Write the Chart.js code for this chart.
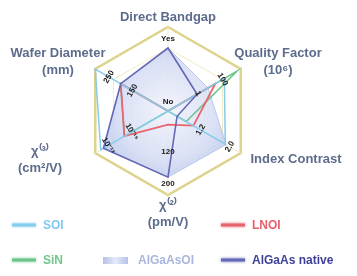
<!DOCTYPE html>
<html>
<head>
<meta charset="utf-8">
<script src="https://cdn.jsdelivr.net/npm/chart.js@4.4.1/dist/chart.umd.min.js"></script>
<style>
  html, body { margin: 0; padding: 0; background: #fff; }
  #wrap { width: 357px; height: 276px; }
</style>
</head>
<body>
<div id="wrap"><canvas id="radar" width="357" height="276"></canvas></div>
<script>
// Axes (clockwise from top)
const axisKeys = ['Direct Bandgap', 'Quality Factor', 'Index Contrast', 'χ(2)', 'χ(3)', 'Wafer Diameter'];
const axisTitles = [
  ['Direct Bandgap'],
  ['Quality Factor', '(10⁶)'],
  ['Index Contrast'],
  ['χ⁽²⁾', '(pm/V)'],
  ['χ⁽³⁾', '(cm²/V)'],
  ['Wafer Diameter', '(mm)']
];

// Series values on a 0..4 radial scale
const soiValues = [0, 3.1, 3.15, 0, 3.7, 4.0];
const lnoiValues = [0, 2.6, 1.4, 0.65, 2.4, 2.6];
const sinValues = [0, 3.8, 1.0, 0, 2.4, 2.6];
const algaasoiValues = [3.0, 2.2, 3.2, 3.15, 3.55, 2.6];
const nativeValues = [3.0, 1.6, 0.5, 3.15, 3.55, 2.6];

// Per-axis tick labels: axis index, radial position, text
const tickAxis = [0, 0, 1, 1, 2, 2, 3, 3, 4, 4, 5, 5];
const tickAt = [3.45, 0.42, 3.0, 1.65, 3.4, 1.8, 3.45, 1.95, 3.3, 2.0, 3.25, 1.95];
const tickText = ['Yes', 'No', '100', '1', '2.0', '1.2', '200', '120', '10⁻¹³', '10⁻¹⁵', '250', '150'];

// Title block offsets from the centre (style only)
const titleOffset = [[0, -94], [110, -49], [128, 48], [0, 103], [-128, 49], [-110, -49]];
const legendPos = [[12, 225], [221, 225], [12, 260], [103, 260], [221, 260]];
const legendText = ['#7fc9ee', '#e8606e', '#72c68e', '#a9b6de', '#3f4199'];

function fillGradient(ctx) {
  const chart = ctx.chart;
  const s = chart.scales.r;
  if (!s || !s.drawingArea) return 'rgba(190,200,236,0.7)';
  const g = chart.ctx.createRadialGradient(s.xCenter, s.yCenter, 0, s.xCenter, s.yCenter, s.drawingArea);
  g.addColorStop(0, 'rgba(242,244,252,0.9)');
  g.addColorStop(0.55, 'rgba(214,221,244,0.85)');
  g.addColorStop(1, 'rgba(172,188,234,0.8)');
  return g;
}

const labelPlugin = {
  id: 'labels',
  afterDatasetsDraw(chart) {
    const ctx = chart.ctx;
    const s = chart.scales.r;
    ctx.save();
    ctx.fillStyle = '#1a1a1a';
    ctx.font = 'bold 8px "Liberation Sans", Arial, sans-serif';
    ctx.textAlign = 'center';
    ctx.textBaseline = 'middle';
    tickText.forEach((t, k) => {
      const i = tickAxis[k];
      const p = s.getPointPosition(i, s.getDistanceFromCenterForValue(tickAt[k]));
      let rot = s.getIndexAngle(i);
      while (rot > Math.PI / 2) rot -= Math.PI;
      ctx.save();
      ctx.translate(p.x, p.y);
      ctx.rotate(rot);
      ctx.fillText(t, 0, 0);
      ctx.restore();
    });
    ctx.restore();
  },
  afterDraw(chart) {
    const ctx = chart.ctx;
    const s = chart.scales.r;
    ctx.save();
    // axis titles
    ctx.fillStyle = '#5d6c8d';
    ctx.font = 'bold 13px "Liberation Sans", Arial, sans-serif';
    ctx.textAlign = 'center';
    ctx.textBaseline = 'middle';
    axisTitles.forEach((lines, i) => {
      const cx = s.xCenter + titleOffset[i][0];
      const cy = s.yCenter + titleOffset[i][1];
      const lh = 17;
      lines.forEach((ln, j) => {
        ctx.fillText(ln, cx, cy + (j - (lines.length - 1) / 2) * lh);
      });
    });
    // legend
    ctx.font = 'bold 12px "Liberation Sans", Arial, sans-serif';
    ctx.textAlign = 'left';
    chart.data.datasets.forEach((ds, k) => {
      const [x, y] = legendPos[k];
      if (ds.fill) {
        const g = ctx.createLinearGradient(x, 0, x + 25, 0);
        g.addColorStop(0, '#b4c1e8');
        g.addColorStop(0.5, '#e6eaf8');
        g.addColorStop(1, '#b4c1e8');
        ctx.fillStyle = g;
        ctx.fillRect(x, y - 3, 25, 7);
      } else {
        ctx.strokeStyle = ds.borderColor;
        ctx.lineWidth = 3;
        ctx.shadowColor = ds.borderColor;
        ctx.shadowBlur = 3;
        ctx.beginPath();
        ctx.moveTo(x, y);
        ctx.lineTo(x + 24, y);
        ctx.stroke();
        ctx.shadowBlur = 0;
      }
      ctx.fillStyle = legendText[k];
      ctx.fillText(ds.label, x + (ds.fill ? 35 : 31), y + 1);
    });
    ctx.restore();
  }
};

new Chart(document.getElementById('radar'), {
  type: 'radar',
  data: {
    labels: axisKeys,
    datasets: [
      { label: 'SOI', data: soiValues, borderColor: '#86ccec', borderWidth: 1.5, fill: false, order: 1 },
      { label: 'LNOI', data: lnoiValues, borderColor: '#e8646e', borderWidth: 1.8, fill: false, order: 1 },
      { label: 'SiN', data: sinValues, borderColor: '#6cc48c', borderWidth: 1.5, fill: false, order: 1 },
      { label: 'AlGaAsOI', data: algaasoiValues, borderColor: 'rgba(160,174,224,0.6)', borderWidth: 1,
        backgroundColor: fillGradient, fill: true, order: 5 },
      { label: 'AlGaAs native', data: nativeValues, borderColor: '#6568b6', borderWidth: 1.6, fill: false, order: 0 }
    ]
  },
  options: {
    responsive: false,
    animation: false,
    layout: { padding: { left: 84, right: 105, top: 27, bottom: 81 } },
    elements: { point: { radius: 0, hoverRadius: 0 }, line: { tension: 0 } },
    plugins: { legend: { display: false }, tooltip: { enabled: false } },
    scales: {
      r: {
        min: 0,
        max: 4,
        ticks: { display: false, stepSize: 1 },
        pointLabels: { display: false },
        grid: {
          color: (c) => c.index === 4 ? '#ddd38c' : '#f0ebc4',
          lineWidth: (c) => c.index === 4 ? 2.5 : 1
        },
        angleLines: { color: '#f0ebc4', lineWidth: 1 }
      }
    }
  },
  plugins: [labelPlugin]
});
</script>
</body>
</html>
